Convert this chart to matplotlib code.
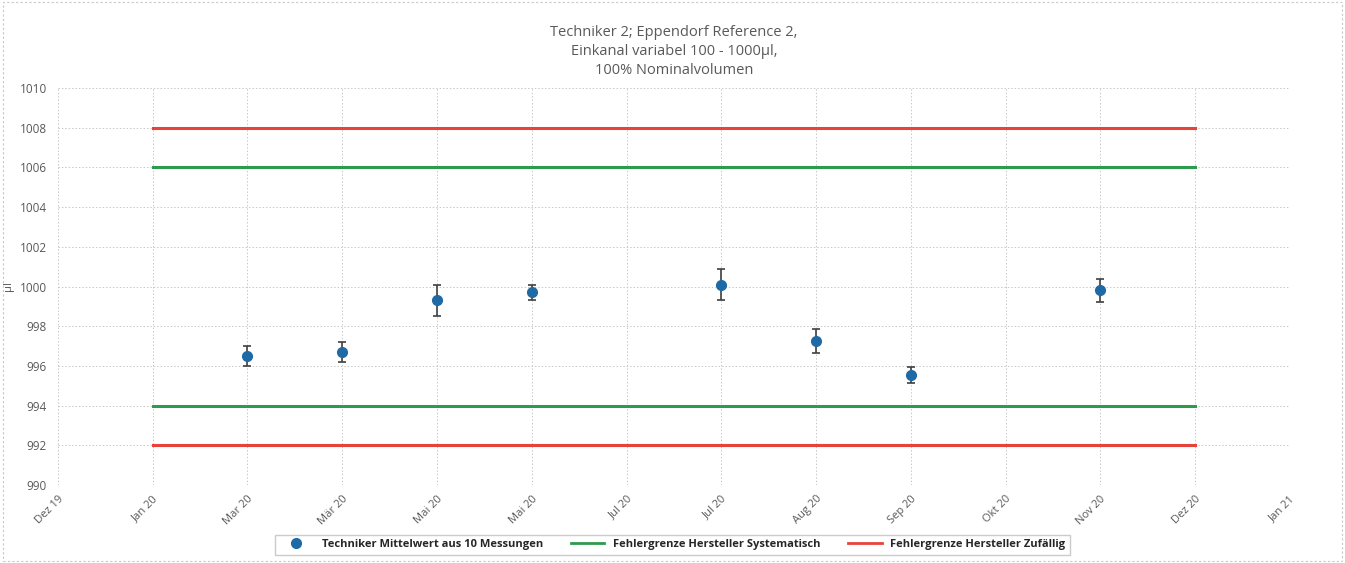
import matplotlib
matplotlib.use("Agg")
import matplotlib.pyplot as plt
from matplotlib.patches import Rectangle
from matplotlib.lines import Line2D

# Data
tick_labels = ["Dez 19", "Jan 20", "Mar 20", "Mär 20", "Mai 20", "Mai 20", "Jul 20",
               "Jul 20", "Aug 20", "Sep 20", "Okt 20", "Nov 20", "Dez 20", "Jan 21"]
mess_pos = [2, 3, 4, 5, 7, 8, 9, 11]
mittelwert = [996.5, 996.7, 999.3, 999.7, 1000.1, 997.25, 995.55, 999.8]
fehler = [0.5, 0.5, 0.8, 0.4, 0.8, 0.6, 0.4, 0.6]
grenze_pos = [1, 12]
sys_oben = [1006, 1006]
sys_unten = [994, 994]
zuf_oben = [1008, 1008]
zuf_unten = [992, 992]

plt.rcParams["font.family"] = ["Open Sans", "DejaVu Sans"]
txt = "#595959"
blau = "#1F6AA5"
gruen = "#2E9A4E"
rot = "#E8433B"

fig = plt.figure(figsize=(13.45, 5.63), dpi=100)
ax = fig.add_axes([0.0431, 0.1385, 0.9159, 0.7052])

# Fehlergrenzen
ax.plot(grenze_pos, sys_oben, color=gruen, lw=2.2)
ax.plot(grenze_pos, sys_unten, color=gruen, lw=2.2)
ax.plot(grenze_pos, zuf_oben, color=rot, lw=2.2)
ax.plot(grenze_pos, zuf_unten, color=rot, lw=2.2)

# Messwerte mit Fehlerbalken
ax.errorbar(mess_pos, mittelwert, yerr=fehler, fmt="o", color=blau, ms=7,
            ecolor="#404040", elinewidth=1.2, capsize=3, capthick=1.2, zorder=5)

ax.set_xlim(0, len(tick_labels) - 1)
ax.set_ylim(990, 1010)
ax.set_xticks(range(len(tick_labels)))
ax.set_xticklabels(tick_labels, rotation=45, ha="right", rotation_mode="anchor",
                   fontsize=8, color=txt)
ax.set_yticks(range(990, 1011, 2))
ax.tick_params(axis="y", labelsize=8.5, labelcolor=txt, length=0, pad=8)
ax.tick_params(axis="x", length=0, pad=6)
ax.grid(True, color="#C8C8C8", linestyle=(0, (1.5, 2)), lw=0.7)
ax.set_axisbelow(True)
for s in ax.spines.values():
    s.set_visible(False)
ax.set_ylabel("µl", fontsize=8, color=txt)
ax.yaxis.set_label_coords(-0.036, 0.5)

ax.set_title("Techniker 2; Eppendorf Reference 2,\nEinkanal variabel 100 - 1000µl,\n100% Nominalvolumen",
             fontsize=10.5, color=txt, pad=10, linespacing=1.35)

handles = [Line2D([], [], ls="none", marker="o", color=blau, ms=7),
           Line2D([], [], color=gruen, lw=2),
           Line2D([], [], color=rot, lw=2)]
labels = ["Techniker Mittelwert aus 10 Messungen",
          "Fehlergrenze Hersteller Systematisch",
          "Fehlergrenze Hersteller Zufällig"]
leg = fig.legend(handles, labels, loc="lower center", bbox_to_anchor=(0.5, 0.005), ncol=3,
                 fontsize=8, frameon=True, fancybox=False, edgecolor="#BFBFBF",
                 handlelength=3, columnspacing=2.5, borderpad=0.4)
for t in leg.get_texts():
    t.set_color("#262626")
    t.set_fontweight("bold")

# Rahmen um die ganze Grafik
fig.patches.append(Rectangle((0.002, 0.003), 0.996, 0.994, transform=fig.transFigure,
                             fill=False, edgecolor="#C8C8C8", lw=0.8, linestyle=(0, (2, 2))))

fig.savefig("out.png", dpi=100)
